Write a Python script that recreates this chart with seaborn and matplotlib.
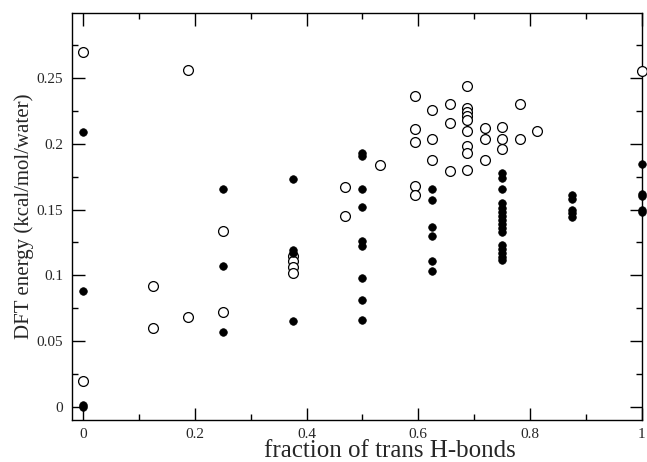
import matplotlib
matplotlib.use("Agg")
import matplotlib.pyplot as plt
from matplotlib.ticker import MultipleLocator, FuncFormatter
import seaborn as sns
import pandas as pd

# open circles
x_open = [0, 0, 0.125, 0.125, 0.1875, 0.1875, 0.25, 0.25,
          0.375, 0.375, 0.375, 0.375, 0.46875, 0.46875, 0.53125,
          0.59375, 0.59375, 0.59375, 0.59375, 0.59375,
          0.625, 0.625, 0.625,
          0.65625, 0.65625, 0.65625,
          0.6875, 0.6875, 0.6875, 0.6875, 0.6875, 0.6875, 0.6875, 0.6875, 0.6875,
          0.71875, 0.71875, 0.71875,
          0.75, 0.75, 0.75,
          0.78125, 0.78125, 0.8125, 1.0]
y_open = [0.270, 0.020, 0.092, 0.060, 0.256, 0.068, 0.134, 0.072,
          0.115, 0.111, 0.106, 0.102, 0.167, 0.145, 0.184,
          0.236, 0.211, 0.201, 0.168, 0.161,
          0.226, 0.204, 0.188,
          0.230, 0.216, 0.179,
          0.244, 0.227, 0.224, 0.221, 0.218, 0.210, 0.198, 0.193, 0.180,
          0.212, 0.204, 0.188,
          0.213, 0.204, 0.196,
          0.230, 0.204, 0.210, 0.255]

# filled circles
x_filled = [0, 0, 0, 0, 0.25, 0.25, 0.25,
            0.375, 0.375, 0.375, 0.375,
            0.5, 0.5, 0.5, 0.5, 0.5, 0.5, 0.5, 0.5, 0.5,
            0.625, 0.625, 0.625, 0.625, 0.625, 0.625,
            0.75, 0.75, 0.75, 0.75, 0.75, 0.75, 0.75, 0.75, 0.75,
            0.75, 0.75, 0.75, 0.75, 0.75, 0.75, 0.75,
            0.875, 0.875, 0.875, 0.875, 0.875,
            1.0, 1.0, 1.0, 1.0, 1.0]
y_filled = [0.209, 0.088, 0.0, 0.001, 0.166, 0.107, 0.057,
            0.173, 0.119, 0.117, 0.065,
            0.193, 0.191, 0.166, 0.152, 0.126, 0.122, 0.098, 0.081, 0.066,
            0.166, 0.157, 0.137, 0.130, 0.111, 0.103,
            0.178, 0.174, 0.166, 0.155, 0.151, 0.148, 0.145, 0.142,
            0.139, 0.136, 0.133, 0.123, 0.120, 0.117, 0.114, 0.112,
            0.161, 0.158, 0.150, 0.147, 0.144,
            0.185, 0.162, 0.160, 0.150, 0.148]

df_open = pd.DataFrame({"x": x_open, "y": y_open})
df_filled = pd.DataFrame({"x": x_filled, "y": y_filled})

sns.set_style("white")
plt.rcParams["font.family"] = ["Liberation Serif", "DejaVu Serif"]

fig = plt.figure(figsize=(6.47, 4.62), dpi=100)
ax = fig.add_axes([0.111, 0.091, 0.881, 0.881])

sns.scatterplot(data=df_open, x="x", y="y", ax=ax, marker="o", s=50,
                facecolor="white", edgecolor="black", linewidth=0.9,
                clip_on=False, zorder=3)
sns.scatterplot(data=df_filled, x="x", y="y", ax=ax, marker="o", s=30,
                color="black", edgecolor="black", linewidth=0.5,
                clip_on=False, zorder=4)

ax.set_xlim(-0.02, 1.0)
ax.set_ylim(-0.01, 0.2995)

ax.xaxis.set_major_locator(MultipleLocator(0.2))
ax.xaxis.set_minor_locator(MultipleLocator(0.1))
ax.yaxis.set_major_locator(MultipleLocator(0.05))
ax.yaxis.set_minor_locator(MultipleLocator(0.025))
fmt = FuncFormatter(lambda v, p: "%g" % round(v, 3))
ax.xaxis.set_major_formatter(fmt)
ax.yaxis.set_major_formatter(fmt)

ax.tick_params(which="both", direction="in", top=True, right=True,
               bottom=True, left=True, width=1, color="black",
               labelsize=11, pad=6)
ax.tick_params(which="major", length=9)
ax.tick_params(which="minor", length=4.5)

for sp in ax.spines.values():
    sp.set_color("black")
    sp.set_linewidth(1)

ax.set_xlabel("fraction of trans H-bonds", fontsize=18)
ax.xaxis.set_label_coords(0.558, -0.05)
ax.set_ylabel("DFT energy (kcal/mol/water)", fontsize=15, labelpad=2)

fig.savefig("out.png", dpi=100)
